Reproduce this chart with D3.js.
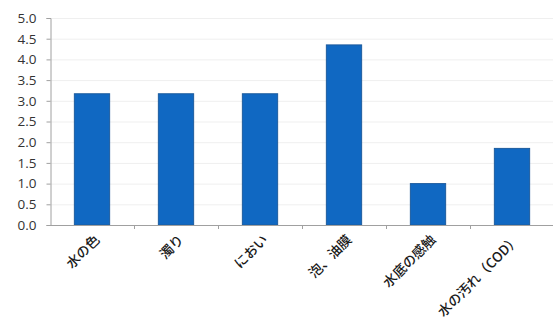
<!DOCTYPE html>
<html><head><meta charset="utf-8">
<script src="https://cdn.jsdelivr.net/npm/d3@7"></script>
<style>body{margin:0;background:#fff}svg{display:block}</style>
</head><body>
<svg id="c" width="553" height="333"></svg>
<script>
const categories = ["水の色","濁り","におい","泡、油膜","水底の感触","水の汚れ（COD）"];
const values = [3.17, 3.17, 3.17, 4.35, 1.0, 1.85];
const yTicks = [0,0.5,1,1.5,2,2.5,3,3.5,4,4.5,5];

const svg = d3.select("#c");
const m = {left:50, top:18, bottom:225, right:554};
const x = d3.scaleBand().domain(categories).range([m.left, m.right]).paddingInner(0.58).paddingOuter(0.29);
const y = d3.scaleLinear().domain([0,5]).range([m.bottom, m.top]);

// gridlines
svg.append("g").selectAll("line").data(yTicks.slice(1)).join("line")
  .attr("x1", m.left).attr("x2", 553).attr("y1", d=>y(d)+0.5).attr("y2", d=>y(d)+0.5)
  .attr("stroke", "#efefef").attr("stroke-width", 1);

// bars
svg.append("g").selectAll("rect").data(values).join("rect")
  .attr("x", (d,i)=>x(categories[i])).attr("width", x.bandwidth())
  .attr("y", d=>y(d)).attr("height", d=>y(0)-y(d))
  .attr("fill", "#1068c2").attr("stroke", "#1d5c9e").attr("stroke-width", 1);

// y axis
const ya = svg.append("g").attr("transform", `translate(${m.left+0.5},0)`)
  .call(d3.axisLeft(y).tickValues(yTicks).tickFormat(d3.format(".1f")).tickSize(4).tickPadding(10));
ya.select(".domain").attr("stroke", "#a0a0a0");
ya.selectAll(".tick line").attr("stroke", "#a0a0a0");
ya.selectAll("text").attr("font-family", "'Open Sans', 'Noto Sans', sans-serif").attr("font-size", 13.5).attr("fill", "#333");

// x axis
const step = x.step();
svg.append("line").attr("x1", m.left).attr("x2", 553).attr("y1", y(0)+0.5).attr("y2", y(0)+0.5).attr("stroke", "#a0a0a0");
svg.append("g").selectAll("line").data(categories.slice(0, -1)).join("line")
  .attr("x1", d=>Math.round(x(d)+x.bandwidth()/2+step/2)+0.5).attr("x2", d=>Math.round(x(d)+x.bandwidth()/2+step/2)+0.5)
  .attr("y1", y(0)).attr("y2", y(0)+4).attr("stroke", "#a0a0a0");

svg.append("g").selectAll("text").data(categories).join("text")
  .attr("transform", d=>`translate(${x(d)+x.bandwidth()/2+6},${y(0)+13}) rotate(-45)`)
  .attr("text-anchor", "end").attr("dominant-baseline", "middle")
  .attr("font-family", "'Noto Sans CJK JP', sans-serif").attr("font-size", 13.5).attr("font-weight", 500).attr("fill", "#1a1a1a")
  .text(d=>d);
</script>
</body></html>
